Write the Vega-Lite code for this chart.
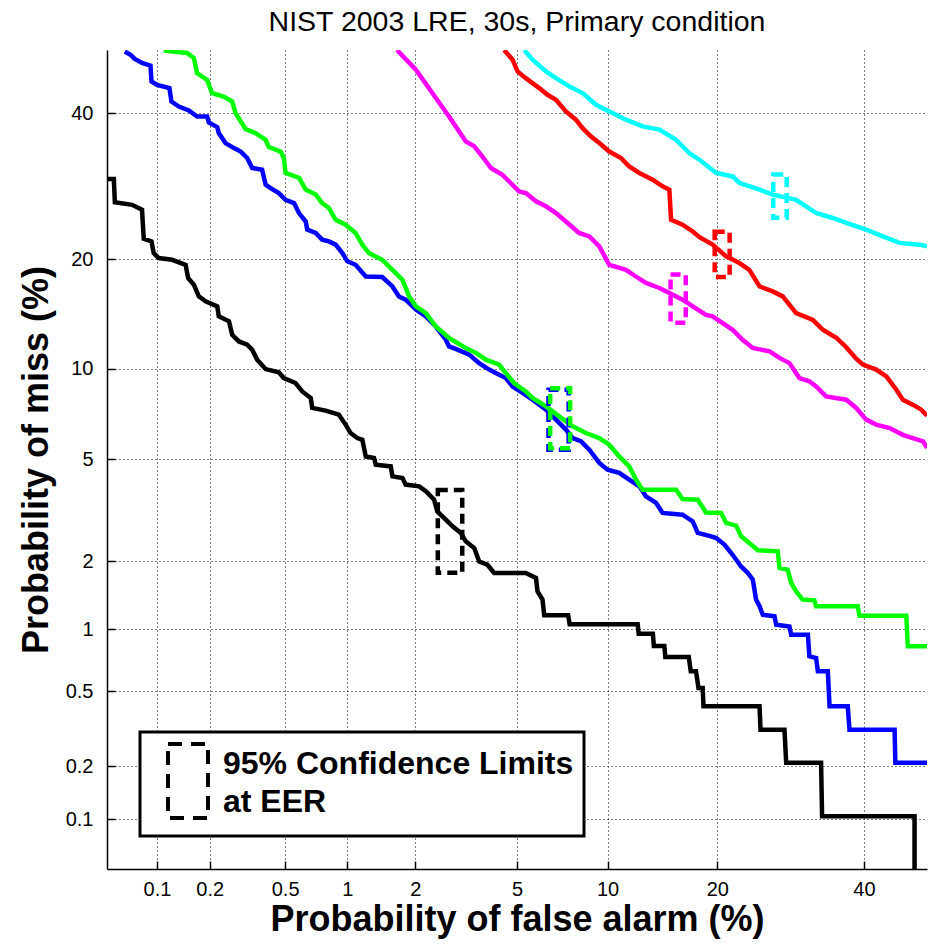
{
  "$schema": "https://vega.github.io/schema/vega-lite/v6.json",
  "width": 820,
  "height": 819,
  "autosize": {"type": "none"},
  "padding": {"left": 107, "top": 50, "right": 5, "bottom": 75},
  "background": "white",
  "title": {"text": "NIST 2003 LRE, 30s, Primary condition", "font": "Liberation Sans", "fontSize": 28.5, "fontWeight": "normal", "color": "black", "anchor": "middle", "offset": 14},
  "datasets": {
    "curves": [
      {"system":"S1","i":0,"pfa_z":-3.294,"pmiss_z":-0.518},{"system":"S1","i":1,"pfa_z":-3.263,"pmiss_z":-0.518},{"system":"S1","i":2,"pfa_z":-3.259,"pmiss_z":-0.612},{"system":"S1","i":3,"pfa_z":-3.190,"pmiss_z":-0.622},{"system":"S1","i":4,"pfa_z":-3.150,"pmiss_z":-0.642},{"system":"S1","i":5,"pfa_z":-3.143,"pmiss_z":-0.759},{"system":"S1","i":6,"pfa_z":-3.112,"pmiss_z":-0.769},{"system":"S1","i":7,"pfa_z":-3.103,"pmiss_z":-0.816},{"system":"S1","i":8,"pfa_z":-3.083,"pmiss_z":-0.836},{"system":"S1","i":9,"pfa_z":-3.029,"pmiss_z":-0.843},{"system":"S1","i":10,"pfa_z":-2.975,"pmiss_z":-0.863},{"system":"S1","i":11,"pfa_z":-2.965,"pmiss_z":-0.916},{"system":"S1","i":12,"pfa_z":-2.942,"pmiss_z":-0.943},{"system":"S1","i":13,"pfa_z":-2.922,"pmiss_z":-0.990},{"system":"S1","i":14,"pfa_z":-2.895,"pmiss_z":-1.010},{"system":"S1","i":15,"pfa_z":-2.848,"pmiss_z":-1.030},{"system":"S1","i":16,"pfa_z":-2.842,"pmiss_z":-1.070},{"system":"S1","i":17,"pfa_z":-2.801,"pmiss_z":-1.090},{"system":"S1","i":18,"pfa_z":-2.788,"pmiss_z":-1.144},{"system":"S1","i":19,"pfa_z":-2.761,"pmiss_z":-1.171},{"system":"S1","i":20,"pfa_z":-2.728,"pmiss_z":-1.184},{"system":"S1","i":21,"pfa_z":-2.708,"pmiss_z":-1.204},{"system":"S1","i":22,"pfa_z":-2.688,"pmiss_z":-1.244},{"system":"S1","i":23,"pfa_z":-2.654,"pmiss_z":-1.282},{"system":"S1","i":24,"pfa_z":-2.601,"pmiss_z":-1.295},{"system":"S1","i":25,"pfa_z":-2.581,"pmiss_z":-1.318},{"system":"S1","i":26,"pfa_z":-2.534,"pmiss_z":-1.338},{"system":"S1","i":27,"pfa_z":-2.507,"pmiss_z":-1.372},{"system":"S1","i":28,"pfa_z":-2.473,"pmiss_z":-1.398},{"system":"S1","i":29,"pfa_z":-2.467,"pmiss_z":-1.438},{"system":"S1","i":30,"pfa_z":-2.413,"pmiss_z":-1.449},{"system":"S1","i":31,"pfa_z":-2.360,"pmiss_z":-1.465},{"system":"S1","i":32,"pfa_z":-2.333,"pmiss_z":-1.505},{"system":"S1","i":33,"pfa_z":-2.313,"pmiss_z":-1.539},{"system":"S1","i":34,"pfa_z":-2.286,"pmiss_z":-1.559},{"system":"S1","i":35,"pfa_z":-2.266,"pmiss_z":-1.566},{"system":"S1","i":36,"pfa_z":-2.252,"pmiss_z":-1.633},{"system":"S1","i":37,"pfa_z":-2.219,"pmiss_z":-1.639},{"system":"S1","i":38,"pfa_z":-2.212,"pmiss_z":-1.666},{"system":"S1","i":39,"pfa_z":-2.152,"pmiss_z":-1.673},{"system":"S1","i":40,"pfa_z":-2.145,"pmiss_z":-1.713},{"system":"S1","i":41,"pfa_z":-2.105,"pmiss_z":-1.720},{"system":"S1","i":42,"pfa_z":-2.092,"pmiss_z":-1.746},{"system":"S1","i":43,"pfa_z":-2.038,"pmiss_z":-1.753},{"system":"S1","i":44,"pfa_z":-2.011,"pmiss_z":-1.773},{"system":"S1","i":45,"pfa_z":-1.978,"pmiss_z":-1.807},{"system":"S1","i":46,"pfa_z":-1.965,"pmiss_z":-1.854},{"system":"S1","i":47,"pfa_z":-1.931,"pmiss_z":-1.887},{"system":"S1","i":48,"pfa_z":-1.904,"pmiss_z":-1.914},{"system":"S1","i":49,"pfa_z":-1.871,"pmiss_z":-1.940},{"system":"S1","i":50,"pfa_z":-1.851,"pmiss_z":-1.974},{"system":"S1","i":51,"pfa_z":-1.817,"pmiss_z":-2.001},{"system":"S1","i":52,"pfa_z":-1.797,"pmiss_z":-2.055},{"system":"S1","i":53,"pfa_z":-1.764,"pmiss_z":-2.068},{"system":"S1","i":54,"pfa_z":-1.737,"pmiss_z":-2.101},{"system":"S1","i":55,"pfa_z":-1.610,"pmiss_z":-2.101},{"system":"S1","i":56,"pfa_z":-1.569,"pmiss_z":-2.121},{"system":"S1","i":57,"pfa_z":-1.563,"pmiss_z":-2.175},{"system":"S1","i":58,"pfa_z":-1.543,"pmiss_z":-2.208},{"system":"S1","i":59,"pfa_z":-1.536,"pmiss_z":-2.271},{"system":"S1","i":60,"pfa_z":-1.440,"pmiss_z":-2.271},{"system":"S1","i":61,"pfa_z":-1.434,"pmiss_z":-2.307},{"system":"S1","i":62,"pfa_z":-1.161,"pmiss_z":-2.307},{"system":"S1","i":63,"pfa_z":-1.157,"pmiss_z":-2.345},{"system":"S1","i":64,"pfa_z":-1.100,"pmiss_z":-2.345},{"system":"S1","i":65,"pfa_z":-1.096,"pmiss_z":-2.395},{"system":"S1","i":66,"pfa_z":-1.054,"pmiss_z":-2.395},{"system":"S1","i":67,"pfa_z":-1.050,"pmiss_z":-2.439},{"system":"S1","i":68,"pfa_z":-0.956,"pmiss_z":-2.439},{"system":"S1","i":69,"pfa_z":-0.948,"pmiss_z":-2.496},{"system":"S1","i":70,"pfa_z":-0.927,"pmiss_z":-2.496},{"system":"S1","i":71,"pfa_z":-0.917,"pmiss_z":-2.563},{"system":"S1","i":72,"pfa_z":-0.900,"pmiss_z":-2.563},{"system":"S1","i":73,"pfa_z":-0.897,"pmiss_z":-2.637},{"system":"S1","i":74,"pfa_z":-0.672,"pmiss_z":-2.637},{"system":"S1","i":75,"pfa_z":-0.668,"pmiss_z":-2.731},{"system":"S1","i":76,"pfa_z":-0.572,"pmiss_z":-2.731},{"system":"S1","i":77,"pfa_z":-0.565,"pmiss_z":-2.864},{"system":"S1","i":78,"pfa_z":-0.425,"pmiss_z":-2.864},{"system":"S1","i":79,"pfa_z":-0.421,"pmiss_z":-3.079},{"system":"S1","i":80,"pfa_z":-0.050,"pmiss_z":-3.079},{"system":"S1","i":81,"pfa_z":-0.050,"pmiss_z":-3.2905},
      {"system":"S2","i":0,"pfa_z":-3.219,"pmiss_z":-0.006},{"system":"S2","i":1,"pfa_z":-3.196,"pmiss_z":-0.019},{"system":"S2","i":2,"pfa_z":-3.179,"pmiss_z":-0.036},{"system":"S2","i":3,"pfa_z":-3.150,"pmiss_z":-0.052},{"system":"S2","i":4,"pfa_z":-3.116,"pmiss_z":-0.063},{"system":"S2","i":5,"pfa_z":-3.112,"pmiss_z":-0.126},{"system":"S2","i":6,"pfa_z":-3.090,"pmiss_z":-0.140},{"system":"S2","i":7,"pfa_z":-3.040,"pmiss_z":-0.153},{"system":"S2","i":8,"pfa_z":-3.032,"pmiss_z":-0.207},{"system":"S2","i":9,"pfa_z":-3.002,"pmiss_z":-0.227},{"system":"S2","i":10,"pfa_z":-2.962,"pmiss_z":-0.243},{"system":"S2","i":11,"pfa_z":-2.929,"pmiss_z":-0.267},{"system":"S2","i":12,"pfa_z":-2.889,"pmiss_z":-0.267},{"system":"S2","i":13,"pfa_z":-2.882,"pmiss_z":-0.291},{"system":"S2","i":14,"pfa_z":-2.848,"pmiss_z":-0.310},{"system":"S2","i":15,"pfa_z":-2.842,"pmiss_z":-0.334},{"system":"S2","i":16,"pfa_z":-2.815,"pmiss_z":-0.374},{"system":"S2","i":17,"pfa_z":-2.781,"pmiss_z":-0.394},{"system":"S2","i":18,"pfa_z":-2.754,"pmiss_z":-0.408},{"system":"S2","i":19,"pfa_z":-2.728,"pmiss_z":-0.434},{"system":"S2","i":20,"pfa_z":-2.708,"pmiss_z":-0.474},{"system":"S2","i":21,"pfa_z":-2.668,"pmiss_z":-0.481},{"system":"S2","i":22,"pfa_z":-2.654,"pmiss_z":-0.541},{"system":"S2","i":23,"pfa_z":-2.634,"pmiss_z":-0.555},{"system":"S2","i":24,"pfa_z":-2.601,"pmiss_z":-0.575},{"system":"S2","i":25,"pfa_z":-2.574,"pmiss_z":-0.602},{"system":"S2","i":26,"pfa_z":-2.540,"pmiss_z":-0.615},{"system":"S2","i":27,"pfa_z":-2.520,"pmiss_z":-0.655},{"system":"S2","i":28,"pfa_z":-2.493,"pmiss_z":-0.689},{"system":"S2","i":29,"pfa_z":-2.487,"pmiss_z":-0.722},{"system":"S2","i":30,"pfa_z":-2.453,"pmiss_z":-0.735},{"system":"S2","i":31,"pfa_z":-2.427,"pmiss_z":-0.762},{"system":"S2","i":32,"pfa_z":-2.400,"pmiss_z":-0.769},{"system":"S2","i":33,"pfa_z":-2.373,"pmiss_z":-0.782},{"system":"S2","i":34,"pfa_z":-2.346,"pmiss_z":-0.816},{"system":"S2","i":35,"pfa_z":-2.326,"pmiss_z":-0.849},{"system":"S2","i":36,"pfa_z":-2.293,"pmiss_z":-0.863},{"system":"S2","i":37,"pfa_z":-2.252,"pmiss_z":-0.910},{"system":"S2","i":38,"pfa_z":-2.186,"pmiss_z":-0.912},{"system":"S2","i":39,"pfa_z":-2.145,"pmiss_z":-0.950},{"system":"S2","i":40,"pfa_z":-2.119,"pmiss_z":-0.990},{"system":"S2","i":41,"pfa_z":-2.092,"pmiss_z":-1.003},{"system":"S2","i":42,"pfa_z":-2.051,"pmiss_z":-1.043},{"system":"S2","i":43,"pfa_z":-2.011,"pmiss_z":-1.070},{"system":"S2","i":44,"pfa_z":-1.971,"pmiss_z":-1.111},{"system":"S2","i":45,"pfa_z":-1.931,"pmiss_z":-1.164},{"system":"S2","i":46,"pfa_z":-1.918,"pmiss_z":-1.191},{"system":"S2","i":47,"pfa_z":-1.884,"pmiss_z":-1.204},{"system":"S2","i":48,"pfa_z":-1.837,"pmiss_z":-1.224},{"system":"S2","i":49,"pfa_z":-1.797,"pmiss_z":-1.258},{"system":"S2","i":50,"pfa_z":-1.757,"pmiss_z":-1.284},{"system":"S2","i":51,"pfa_z":-1.717,"pmiss_z":-1.305},{"system":"S2","i":52,"pfa_z":-1.690,"pmiss_z":-1.318},{"system":"S2","i":53,"pfa_z":-1.663,"pmiss_z":-1.352},{"system":"S2","i":54,"pfa_z":-1.623,"pmiss_z":-1.378},{"system":"S2","i":55,"pfa_z":-1.583,"pmiss_z":-1.405},{"system":"S2","i":56,"pfa_z":-1.529,"pmiss_z":-1.445},{"system":"S2","i":57,"pfa_z":-1.489,"pmiss_z":-1.485},{"system":"S2","i":58,"pfa_z":-1.449,"pmiss_z":-1.525},{"system":"S2","i":59,"pfa_z":-1.422,"pmiss_z":-1.559},{"system":"S2","i":60,"pfa_z":-1.389,"pmiss_z":-1.572},{"system":"S2","i":61,"pfa_z":-1.355,"pmiss_z":-1.606},{"system":"S2","i":62,"pfa_z":-1.315,"pmiss_z":-1.659},{"system":"S2","i":63,"pfa_z":-1.282,"pmiss_z":-1.686},{"system":"S2","i":64,"pfa_z":-1.235,"pmiss_z":-1.699},{"system":"S2","i":65,"pfa_z":-1.195,"pmiss_z":-1.726},{"system":"S2","i":66,"pfa_z":-1.154,"pmiss_z":-1.753},{"system":"S2","i":67,"pfa_z":-1.128,"pmiss_z":-1.793},{"system":"S2","i":68,"pfa_z":-1.087,"pmiss_z":-1.820},{"system":"S2","i":69,"pfa_z":-1.061,"pmiss_z":-1.860},{"system":"S2","i":70,"pfa_z":-0.981,"pmiss_z":-1.867},{"system":"S2","i":71,"pfa_z":-0.940,"pmiss_z":-1.894},{"system":"S2","i":72,"pfa_z":-0.920,"pmiss_z":-1.940},{"system":"S2","i":73,"pfa_z":-0.866,"pmiss_z":-1.954},{"system":"S2","i":74,"pfa_z":-0.846,"pmiss_z":-1.961},{"system":"S2","i":75,"pfa_z":-0.813,"pmiss_z":-1.987},{"system":"S2","i":76,"pfa_z":-0.780,"pmiss_z":-2.028},{"system":"S2","i":77,"pfa_z":-0.746,"pmiss_z":-2.075},{"system":"S2","i":78,"pfa_z":-0.719,"pmiss_z":-2.101},{"system":"S2","i":79,"pfa_z":-0.699,"pmiss_z":-2.128},{"system":"S2","i":80,"pfa_z":-0.686,"pmiss_z":-2.208},{"system":"S2","i":81,"pfa_z":-0.672,"pmiss_z":-2.235},{"system":"S2","i":82,"pfa_z":-0.659,"pmiss_z":-2.269},{"system":"S2","i":83,"pfa_z":-0.612,"pmiss_z":-2.275},{"system":"S2","i":84,"pfa_z":-0.605,"pmiss_z":-2.309},{"system":"S2","i":85,"pfa_z":-0.552,"pmiss_z":-2.316},{"system":"S2","i":86,"pfa_z":-0.545,"pmiss_z":-2.349},{"system":"S2","i":87,"pfa_z":-0.478,"pmiss_z":-2.349},{"system":"S2","i":88,"pfa_z":-0.472,"pmiss_z":-2.436},{"system":"S2","i":89,"pfa_z":-0.445,"pmiss_z":-2.443},{"system":"S2","i":90,"pfa_z":-0.438,"pmiss_z":-2.496},{"system":"S2","i":91,"pfa_z":-0.398,"pmiss_z":-2.496},{"system":"S2","i":92,"pfa_z":-0.391,"pmiss_z":-2.637},{"system":"S2","i":93,"pfa_z":-0.318,"pmiss_z":-2.637},{"system":"S2","i":94,"pfa_z":-0.311,"pmiss_z":-2.731},{"system":"S2","i":95,"pfa_z":-0.130,"pmiss_z":-2.731},{"system":"S2","i":96,"pfa_z":-0.127,"pmiss_z":-2.864},{"system":"S2","i":97,"pfa_z":0.0,"pmiss_z":-2.864},
      {"system":"S3","i":0,"pfa_z":-3.063,"pmiss_z":-0.002},{"system":"S3","i":1,"pfa_z":-2.969,"pmiss_z":-0.012},{"system":"S3","i":2,"pfa_z":-2.942,"pmiss_z":-0.032},{"system":"S3","i":3,"pfa_z":-2.929,"pmiss_z":-0.093},{"system":"S3","i":4,"pfa_z":-2.889,"pmiss_z":-0.120},{"system":"S3","i":5,"pfa_z":-2.869,"pmiss_z":-0.173},{"system":"S3","i":6,"pfa_z":-2.822,"pmiss_z":-0.187},{"system":"S3","i":7,"pfa_z":-2.788,"pmiss_z":-0.207},{"system":"S3","i":8,"pfa_z":-2.775,"pmiss_z":-0.253},{"system":"S3","i":9,"pfa_z":-2.734,"pmiss_z":-0.318},{"system":"S3","i":10,"pfa_z":-2.694,"pmiss_z":-0.334},{"system":"S3","i":11,"pfa_z":-2.654,"pmiss_z":-0.361},{"system":"S3","i":12,"pfa_z":-2.641,"pmiss_z":-0.390},{"system":"S3","i":13,"pfa_z":-2.594,"pmiss_z":-0.408},{"system":"S3","i":14,"pfa_z":-2.581,"pmiss_z":-0.434},{"system":"S3","i":15,"pfa_z":-2.574,"pmiss_z":-0.494},{"system":"S3","i":16,"pfa_z":-2.520,"pmiss_z":-0.514},{"system":"S3","i":17,"pfa_z":-2.493,"pmiss_z":-0.561},{"system":"S3","i":18,"pfa_z":-2.453,"pmiss_z":-0.581},{"system":"S3","i":19,"pfa_z":-2.427,"pmiss_z":-0.615},{"system":"S3","i":20,"pfa_z":-2.400,"pmiss_z":-0.635},{"system":"S3","i":21,"pfa_z":-2.373,"pmiss_z":-0.682},{"system":"S3","i":22,"pfa_z":-2.333,"pmiss_z":-0.702},{"system":"S3","i":23,"pfa_z":-2.293,"pmiss_z":-0.735},{"system":"S3","i":24,"pfa_z":-2.266,"pmiss_z":-0.782},{"system":"S3","i":25,"pfa_z":-2.239,"pmiss_z":-0.816},{"system":"S3","i":26,"pfa_z":-2.186,"pmiss_z":-0.843},{"system":"S3","i":27,"pfa_z":-2.145,"pmiss_z":-0.883},{"system":"S3","i":28,"pfa_z":-2.105,"pmiss_z":-0.923},{"system":"S3","i":29,"pfa_z":-2.078,"pmiss_z":-0.990},{"system":"S3","i":30,"pfa_z":-2.051,"pmiss_z":-1.030},{"system":"S3","i":31,"pfa_z":-2.011,"pmiss_z":-1.057},{"system":"S3","i":32,"pfa_z":-1.971,"pmiss_z":-1.111},{"system":"S3","i":33,"pfa_z":-1.918,"pmiss_z":-1.157},{"system":"S3","i":34,"pfa_z":-1.851,"pmiss_z":-1.197},{"system":"S3","i":35,"pfa_z":-1.810,"pmiss_z":-1.217},{"system":"S3","i":36,"pfa_z":-1.770,"pmiss_z":-1.244},{"system":"S3","i":37,"pfa_z":-1.717,"pmiss_z":-1.264},{"system":"S3","i":38,"pfa_z":-1.690,"pmiss_z":-1.298},{"system":"S3","i":39,"pfa_z":-1.657,"pmiss_z":-1.338},{"system":"S3","i":40,"pfa_z":-1.610,"pmiss_z":-1.372},{"system":"S3","i":41,"pfa_z":-1.583,"pmiss_z":-1.398},{"system":"S3","i":42,"pfa_z":-1.529,"pmiss_z":-1.432},{"system":"S3","i":43,"pfa_z":-1.476,"pmiss_z":-1.472},{"system":"S3","i":44,"pfa_z":-1.422,"pmiss_z":-1.512},{"system":"S3","i":45,"pfa_z":-1.369,"pmiss_z":-1.539},{"system":"S3","i":46,"pfa_z":-1.315,"pmiss_z":-1.559},{"system":"S3","i":47,"pfa_z":-1.275,"pmiss_z":-1.586},{"system":"S3","i":48,"pfa_z":-1.235,"pmiss_z":-1.633},{"system":"S3","i":49,"pfa_z":-1.195,"pmiss_z":-1.673},{"system":"S3","i":50,"pfa_z":-1.168,"pmiss_z":-1.726},{"system":"S3","i":51,"pfa_z":-1.141,"pmiss_z":-1.767},{"system":"S3","i":52,"pfa_z":-1.007,"pmiss_z":-1.767},{"system":"S3","i":53,"pfa_z":-0.981,"pmiss_z":-1.804},{"system":"S3","i":54,"pfa_z":-0.920,"pmiss_z":-1.807},{"system":"S3","i":55,"pfa_z":-0.887,"pmiss_z":-1.858},{"system":"S3","i":56,"pfa_z":-0.826,"pmiss_z":-1.860},{"system":"S3","i":57,"pfa_z":-0.806,"pmiss_z":-1.900},{"system":"S3","i":58,"pfa_z":-0.766,"pmiss_z":-1.911},{"system":"S3","i":59,"pfa_z":-0.746,"pmiss_z":-1.954},{"system":"S3","i":60,"pfa_z":-0.713,"pmiss_z":-1.981},{"system":"S3","i":61,"pfa_z":-0.679,"pmiss_z":-2.010},{"system":"S3","i":62,"pfa_z":-0.599,"pmiss_z":-2.014},{"system":"S3","i":63,"pfa_z":-0.592,"pmiss_z":-2.081},{"system":"S3","i":64,"pfa_z":-0.559,"pmiss_z":-2.088},{"system":"S3","i":65,"pfa_z":-0.545,"pmiss_z":-2.141},{"system":"S3","i":66,"pfa_z":-0.525,"pmiss_z":-2.175},{"system":"S3","i":67,"pfa_z":-0.499,"pmiss_z":-2.208},{"system":"S3","i":68,"pfa_z":-0.452,"pmiss_z":-2.211},{"system":"S3","i":69,"pfa_z":-0.445,"pmiss_z":-2.235},{"system":"S3","i":70,"pfa_z":-0.278,"pmiss_z":-2.235},{"system":"S3","i":71,"pfa_z":-0.271,"pmiss_z":-2.273},{"system":"S3","i":72,"pfa_z":-0.083,"pmiss_z":-2.273},{"system":"S3","i":73,"pfa_z":-0.077,"pmiss_z":-2.396},{"system":"S3","i":74,"pfa_z":0.0,"pmiss_z":-2.396},
      {"system":"S4","i":0,"pfa_z":-2.127,"pmiss_z":0.0},{"system":"S4","i":1,"pfa_z":-2.051,"pmiss_z":-0.079},{"system":"S4","i":2,"pfa_z":-1.985,"pmiss_z":-0.173},{"system":"S4","i":3,"pfa_z":-1.918,"pmiss_z":-0.267},{"system":"S4","i":4,"pfa_z":-1.851,"pmiss_z":-0.367},{"system":"S4","i":5,"pfa_z":-1.817,"pmiss_z":-0.387},{"system":"S4","i":6,"pfa_z":-1.784,"pmiss_z":-0.428},{"system":"S4","i":7,"pfa_z":-1.750,"pmiss_z":-0.474},{"system":"S4","i":8,"pfa_z":-1.704,"pmiss_z":-0.501},{"system":"S4","i":9,"pfa_z":-1.657,"pmiss_z":-0.548},{"system":"S4","i":10,"pfa_z":-1.637,"pmiss_z":-0.568},{"system":"S4","i":11,"pfa_z":-1.610,"pmiss_z":-0.575},{"system":"S4","i":12,"pfa_z":-1.569,"pmiss_z":-0.608},{"system":"S4","i":13,"pfa_z":-1.529,"pmiss_z":-0.628},{"system":"S4","i":14,"pfa_z":-1.489,"pmiss_z":-0.655},{"system":"S4","i":15,"pfa_z":-1.449,"pmiss_z":-0.689},{"system":"S4","i":16,"pfa_z":-1.396,"pmiss_z":-0.735},{"system":"S4","i":17,"pfa_z":-1.355,"pmiss_z":-0.749},{"system":"S4","i":18,"pfa_z":-1.315,"pmiss_z":-0.789},{"system":"S4","i":19,"pfa_z":-1.275,"pmiss_z":-0.863},{"system":"S4","i":20,"pfa_z":-1.208,"pmiss_z":-0.883},{"system":"S4","i":21,"pfa_z":-1.168,"pmiss_z":-0.910},{"system":"S4","i":22,"pfa_z":-1.128,"pmiss_z":-0.936},{"system":"S4","i":23,"pfa_z":-1.074,"pmiss_z":-0.956},{"system":"S4","i":24,"pfa_z":-1.034,"pmiss_z":-0.976},{"system":"S4","i":25,"pfa_z":-0.981,"pmiss_z":-1.003},{"system":"S4","i":26,"pfa_z":-0.940,"pmiss_z":-1.030},{"system":"S4","i":27,"pfa_z":-0.887,"pmiss_z":-1.064},{"system":"S4","i":28,"pfa_z":-0.860,"pmiss_z":-1.070},{"system":"S4","i":29,"pfa_z":-0.820,"pmiss_z":-1.097},{"system":"S4","i":30,"pfa_z":-0.780,"pmiss_z":-1.124},{"system":"S4","i":31,"pfa_z":-0.740,"pmiss_z":-1.164},{"system":"S4","i":32,"pfa_z":-0.699,"pmiss_z":-1.197},{"system":"S4","i":33,"pfa_z":-0.632,"pmiss_z":-1.211},{"system":"S4","i":34,"pfa_z":-0.592,"pmiss_z":-1.237},{"system":"S4","i":35,"pfa_z":-0.552,"pmiss_z":-1.258},{"system":"S4","i":36,"pfa_z":-0.512,"pmiss_z":-1.318},{"system":"S4","i":37,"pfa_z":-0.472,"pmiss_z":-1.331},{"system":"S4","i":38,"pfa_z":-0.445,"pmiss_z":-1.352},{"system":"S4","i":39,"pfa_z":-0.405,"pmiss_z":-1.392},{"system":"S4","i":40,"pfa_z":-0.324,"pmiss_z":-1.405},{"system":"S4","i":41,"pfa_z":-0.284,"pmiss_z":-1.438},{"system":"S4","i":42,"pfa_z":-0.244,"pmiss_z":-1.485},{"system":"S4","i":43,"pfa_z":-0.204,"pmiss_z":-1.505},{"system":"S4","i":44,"pfa_z":-0.150,"pmiss_z":-1.519},{"system":"S4","i":45,"pfa_z":-0.097,"pmiss_z":-1.546},{"system":"S4","i":46,"pfa_z":-0.057,"pmiss_z":-1.559},{"system":"S4","i":47,"pfa_z":-0.016,"pmiss_z":-1.572},{"system":"S4","i":48,"pfa_z":0.0,"pmiss_z":-1.598},
      {"system":"S5","i":0,"pfa_z":-1.697,"pmiss_z":0.0},{"system":"S5","i":1,"pfa_z":-1.663,"pmiss_z":-0.039},{"system":"S5","i":2,"pfa_z":-1.643,"pmiss_z":-0.086},{"system":"S5","i":3,"pfa_z":-1.610,"pmiss_z":-0.113},{"system":"S5","i":4,"pfa_z":-1.583,"pmiss_z":-0.133},{"system":"S5","i":5,"pfa_z":-1.556,"pmiss_z":-0.153},{"system":"S5","i":6,"pfa_z":-1.523,"pmiss_z":-0.180},{"system":"S5","i":7,"pfa_z":-1.489,"pmiss_z":-0.200},{"system":"S5","i":8,"pfa_z":-1.449,"pmiss_z":-0.247},{"system":"S5","i":9,"pfa_z":-1.409,"pmiss_z":-0.280},{"system":"S5","i":10,"pfa_z":-1.382,"pmiss_z":-0.314},{"system":"S5","i":11,"pfa_z":-1.349,"pmiss_z":-0.347},{"system":"S5","i":12,"pfa_z":-1.315,"pmiss_z":-0.374},{"system":"S5","i":13,"pfa_z":-1.275,"pmiss_z":-0.408},{"system":"S5","i":14,"pfa_z":-1.228,"pmiss_z":-0.434},{"system":"S5","i":15,"pfa_z":-1.195,"pmiss_z":-0.468},{"system":"S5","i":16,"pfa_z":-1.154,"pmiss_z":-0.494},{"system":"S5","i":17,"pfa_z":-1.101,"pmiss_z":-0.521},{"system":"S5","i":18,"pfa_z":-1.061,"pmiss_z":-0.548},{"system":"S5","i":19,"pfa_z":-1.034,"pmiss_z":-0.561},{"system":"S5","i":20,"pfa_z":-1.027,"pmiss_z":-0.682},{"system":"S5","i":21,"pfa_z":-0.981,"pmiss_z":-0.702},{"system":"S5","i":22,"pfa_z":-0.940,"pmiss_z":-0.729},{"system":"S5","i":23,"pfa_z":-0.913,"pmiss_z":-0.752},{"system":"S5","i":24,"pfa_z":-0.860,"pmiss_z":-0.782},{"system":"S5","i":25,"pfa_z":-0.806,"pmiss_z":-0.829},{"system":"S5","i":26,"pfa_z":-0.753,"pmiss_z":-0.856},{"system":"S5","i":27,"pfa_z":-0.713,"pmiss_z":-0.883},{"system":"S5","i":28,"pfa_z":-0.672,"pmiss_z":-0.950},{"system":"S5","i":29,"pfa_z":-0.619,"pmiss_z":-0.970},{"system":"S5","i":30,"pfa_z":-0.579,"pmiss_z":-0.990},{"system":"S5","i":31,"pfa_z":-0.525,"pmiss_z":-1.057},{"system":"S5","i":32,"pfa_z":-0.458,"pmiss_z":-1.084},{"system":"S5","i":33,"pfa_z":-0.418,"pmiss_z":-1.124},{"system":"S5","i":34,"pfa_z":-0.364,"pmiss_z":-1.156},{"system":"S5","i":35,"pfa_z":-0.324,"pmiss_z":-1.194},{"system":"S5","i":36,"pfa_z":-0.284,"pmiss_z":-1.240},{"system":"S5","i":37,"pfa_z":-0.257,"pmiss_z":-1.264},{"system":"S5","i":38,"pfa_z":-0.204,"pmiss_z":-1.284},{"system":"S5","i":39,"pfa_z":-0.163,"pmiss_z":-1.311},{"system":"S5","i":40,"pfa_z":-0.123,"pmiss_z":-1.365},{"system":"S5","i":41,"pfa_z":-0.097,"pmiss_z":-1.405},{"system":"S5","i":42,"pfa_z":-0.057,"pmiss_z":-1.425},{"system":"S5","i":43,"pfa_z":-0.023,"pmiss_z":-1.445},{"system":"S5","i":44,"pfa_z":0.0,"pmiss_z":-1.469},
      {"system":"S6","i":0,"pfa_z":-1.616,"pmiss_z":0.0},{"system":"S6","i":1,"pfa_z":-1.583,"pmiss_z":-0.039},{"system":"S6","i":2,"pfa_z":-1.529,"pmiss_z":-0.086},{"system":"S6","i":3,"pfa_z":-1.489,"pmiss_z":-0.113},{"system":"S6","i":4,"pfa_z":-1.436,"pmiss_z":-0.146},{"system":"S6","i":5,"pfa_z":-1.382,"pmiss_z":-0.173},{"system":"S6","i":6,"pfa_z":-1.328,"pmiss_z":-0.220},{"system":"S6","i":7,"pfa_z":-1.275,"pmiss_z":-0.247},{"system":"S6","i":8,"pfa_z":-1.208,"pmiss_z":-0.280},{"system":"S6","i":9,"pfa_z":-1.141,"pmiss_z":-0.307},{"system":"S6","i":10,"pfa_z":-1.074,"pmiss_z":-0.320},{"system":"S6","i":11,"pfa_z":-1.007,"pmiss_z":-0.361},{"system":"S6","i":12,"pfa_z":-0.954,"pmiss_z":-0.414},{"system":"S6","i":13,"pfa_z":-0.913,"pmiss_z":-0.441},{"system":"S6","i":14,"pfa_z":-0.846,"pmiss_z":-0.494},{"system":"S6","i":15,"pfa_z":-0.780,"pmiss_z":-0.508},{"system":"S6","i":16,"pfa_z":-0.753,"pmiss_z":-0.534},{"system":"S6","i":17,"pfa_z":-0.672,"pmiss_z":-0.561},{"system":"S6","i":18,"pfa_z":-0.619,"pmiss_z":-0.581},{"system":"S6","i":19,"pfa_z":-0.525,"pmiss_z":-0.602},{"system":"S6","i":20,"pfa_z":-0.445,"pmiss_z":-0.655},{"system":"S6","i":21,"pfa_z":-0.378,"pmiss_z":-0.675},{"system":"S6","i":22,"pfa_z":-0.324,"pmiss_z":-0.695},{"system":"S6","i":23,"pfa_z":-0.244,"pmiss_z":-0.722},{"system":"S6","i":24,"pfa_z":-0.177,"pmiss_z":-0.749},{"system":"S6","i":25,"pfa_z":-0.110,"pmiss_z":-0.775},{"system":"S6","i":26,"pfa_z":-0.030,"pmiss_z":-0.782},{"system":"S6","i":27,"pfa_z":0.0,"pmiss_z":-0.789}
    ],
    "ci": [
      {"system":"S1","note":"95% Confidence Limits at EER","pfa_lo":-1.963,"pfa_hi":-1.865,"pmiss_hi":-1.768,"pmiss_lo":-2.100},
      {"system":"S2","note":"95% Confidence Limits at EER","pfa_lo":-1.519,"pfa_hi":-1.438,"pmiss_hi":-1.365,"pmiss_lo":-1.606},
      {"system":"S3","note":"95% Confidence Limits at EER","pfa_lo":-1.512,"pfa_hi":-1.432,"pmiss_hi":-1.359,"pmiss_lo":-1.600},
      {"system":"S4","note":"95% Confidence Limits at EER","pfa_lo":-1.029,"pfa_hi":-0.968,"pmiss_hi":-0.902,"pmiss_lo":-1.096},
      {"system":"S5","note":"95% Confidence Limits at EER","pfa_lo":-0.852,"pfa_hi":-0.792,"pmiss_hi":-0.730,"pmiss_lo":-0.912},
      {"system":"S6","note":"95% Confidence Limits at EER","pfa_lo":-0.617,"pfa_hi":-0.563,"pmiss_hi":-0.500,"pmiss_lo":-0.674}
    ]
  },
  "layer": [
    {
      "data": {"name": "curves"},
      "mark": {"type": "line", "strokeWidth": 4.5, "clip": true},
      "encoding": {
        "x": {"field": "pfa_z", "type": "quantitative", "title": "Probability of false alarm (%)",
              "scale": {"domain": [-3.2905, 0], "nice": false, "zero": false},
              "axis": {"values": [-3.0902, -2.8782, -2.5758, -2.3263, -2.0537, -1.6449, -1.2816, -0.8416, -0.2533],
                       "labelExpr": "format(cumulativeNormal(datum.value) * 100, '.1~r')",
                       "labelPadding": 18, "titlePadding": 3}},
        "y": {"field": "pmiss_z", "type": "quantitative", "title": "Probability of miss (%)",
              "scale": {"domain": [-3.2905, 0], "nice": false, "zero": false},
              "axis": {"values": [-3.0902, -2.8782, -2.5758, -2.3263, -2.0537, -1.6449, -1.2816, -0.8416, -0.2533],
                       "labelExpr": "format(cumulativeNormal(datum.value) * 100, '.1~r')",
                       "labelPadding": 22, "titlePadding": 10}},
        "color": {"field": "system", "type": "nominal",
                  "scale": {"domain": ["S1", "S2", "S3", "S4", "S5", "S6"], "range": ["#000000", "#0000ff", "#00ff00", "#ff00ff", "#ff0000", "#00ffff"]},
                  "legend": null},
        "order": {"field": "i", "type": "quantitative"}
      }
    },
    {
      "data": {"name": "ci"},
      "mark": {"type": "rect", "filled": false, "strokeWidth": 4.5, "strokeDash": [10, 6]},
      "encoding": {
        "x": {"field": "pfa_lo", "type": "quantitative", "title": "Probability of false alarm (%)"},
        "x2": {"field": "pfa_hi"},
        "y": {"field": "pmiss_hi", "type": "quantitative", "title": "Probability of miss (%)"},
        "y2": {"field": "pmiss_lo"},
        "color": {"field": "system", "type": "nominal", "legend": null},
        "opacity": {"field": "note", "type": "nominal",
                    "scale": {"domain": ["95% Confidence Limits at EER"], "range": [1]},
                    "legend": {"orient": "none", "legendX": 33, "legendY": 682, "title": null,
                               "symbolType": "M-0.2,-1H1.8V2.7H-0.2Z", "symbolSize": 1600,
                               "symbolStrokeColor": "black", "symbolStrokeWidth": 4, "symbolFillColor": "transparent", "symbolDash": [14, 9],
                               "labelFont": "Liberation Sans", "labelFontSize": 32, "labelFontWeight": "bold", "labelColor": "black",
                               "labelExpr": "['95% Confidence Limits', 'at EER']", "labelLimit": 0, "labelOffset": 29,
                               "strokeColor": "black", "fillColor": "white", "padding": 10}}
      }
    }
  ],
  "config": {
    "view": {"stroke": null},
    "legend": {"strokeWidth": 3},
    "axis": {"grid": true, "gridDash": [1, 3], "gridColor": "#000000", "gridOpacity": 1, "gridWidth": 1,
             "domainColor": "black", "domainWidth": 1.5, "tickColor": "black", "tickSize": -8, "tickWidth": 1.5,
             "labelFont": "Liberation Sans", "labelFontSize": 20, "labelColor": "black",
             "titleFont": "Liberation Sans", "titleFontSize": 36, "titleFontWeight": "bold", "titleColor": "black"},
    "style": {"guide-label": {"lineHeight": 38}}
  }
}
